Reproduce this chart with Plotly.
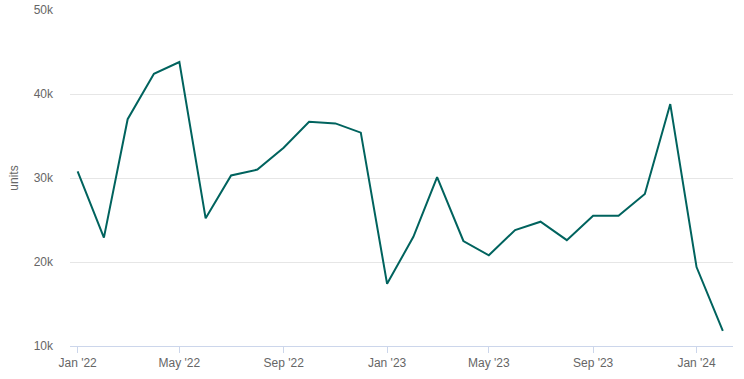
import plotly.graph_objects as go

months = ["2022-01-01","2022-02-01","2022-03-01","2022-04-01","2022-05-01","2022-06-01",
          "2022-07-01","2022-08-01","2022-09-01","2022-10-01","2022-11-01","2022-12-01",
          "2023-01-01","2023-02-01","2023-03-01","2023-04-01","2023-05-01","2023-06-01",
          "2023-07-01","2023-08-01","2023-09-01","2023-10-01","2023-11-01","2023-12-01",
          "2024-01-01","2024-02-01"]
units = [30800, 22900, 37000, 42400, 43800, 25200, 30300, 31000, 33600, 36700, 36500, 35400,
         17400, 23000, 30100, 22500, 20800, 23800, 24800, 22600, 25500, 25500, 28100, 38800,
         19400, 11800]
tick_vals = ["2022-01-01","2022-05-01","2022-09-01","2023-01-01","2023-05-01","2023-09-01","2024-01-01"]
tick_text = ["Jan '22","May '22","Sep '22","Jan '23","May '23","Sep '23","Jan '24"]
y_ticks = [10000, 20000, 30000, 40000, 50000]
y_text = ["10k", "20k", "30k", "40k", "50k"]

fig = go.Figure(go.Scatter(x=months, y=units, mode="lines",
                           line=dict(color="#00635e", width=2), hoverinfo="x+y"))

fig.update_layout(
    width=744, height=379,
    margin=dict(l=70, r=11, t=10, b=33, autoexpand=False),
    paper_bgcolor="white", plot_bgcolor="white",
    font=dict(family="Liberation Sans, Arial, sans-serif", size=12, color="#666666"),
    showlegend=False,
    xaxis=dict(type="date", range=["2021-12-23", "2024-02-13"],
               tickvals=tick_vals, ticktext=tick_text, automargin=False,
               showgrid=False, showline=True, linecolor="#ccd6eb", linewidth=1,
               ticks="outside", ticklen=6, tickcolor="#ccd6eb",
               tickfont=dict(size=12, color="#666666"), zeroline=False),
    yaxis=dict(range=[10000, 50000], tickvals=y_ticks, ticktext=y_text,
               showgrid=True, gridcolor="#e6e6e6", gridwidth=1, zeroline=False,
               ticks="", ticklabelstandoff=16, automargin=False,
               tickfont=dict(size=12, color="#666666"),
               title=dict(text="units", font=dict(size=12, color="#666666"), standoff=12)),
)

fig.write_html("out.html", config={"displayModeBar": False},
               post_script="document.body.style.margin='0';")
